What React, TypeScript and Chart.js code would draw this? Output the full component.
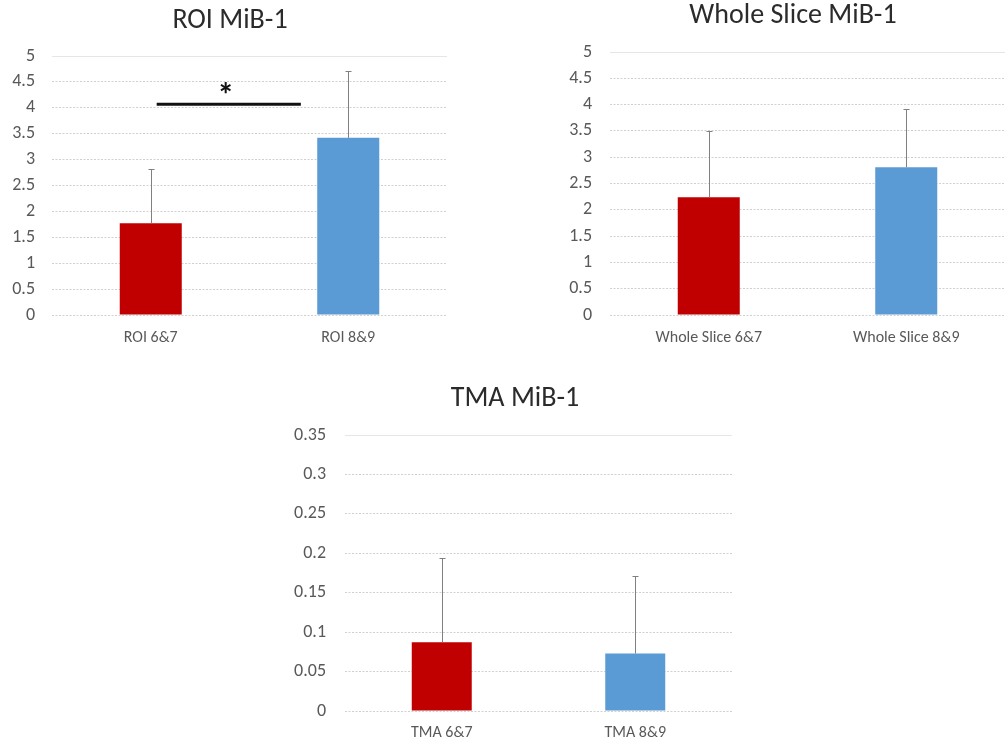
import React, { useEffect, useRef } from "react";
import { Chart, registerables } from "chart.js";

Chart.register(...registerables);

// ---- Data ----
const roiCategories = ["ROI 6&7", "ROI 8&9"];
const roiMeans = [1.77, 3.42];
const roiErrors = [1.05, 1.3];
const roiTitle = "ROI MiB-1";
const roiSigFrom = 0.03;
const roiSigTo = 0.76;
const roiSigLevel = 4.07;
const roiSigLabel = "*";

const wholeCategories = ["Whole Slice 6&7", "Whole Slice 8&9"];
const wholeMeans = [2.24, 2.81];
const wholeErrors = [1.26, 1.1];
const wholeTitle = "Whole Slice MiB-1";

const tmaCategories = ["TMA 6&7", "TMA 8&9"];
const tmaMeans = [0.0873, 0.0729];
const tmaErrors = [0.1063, 0.0979];
const tmaTitle = "TMA MiB-1";

const barColors = ["#C00000", "#5B9BD5"];
const FONT = "Carlito, 'Open Sans', 'Noto Sans', sans-serif";

type Spec = {
  left: number;
  top: number;
  width: number;
  height: number;
  pad: { left: number; right: number; top: number; bottom: number };
  yAxisWidth: number;
  yTickPad: number;
  xTickPad: number;
  titleX: number;
  titleY: number;
  title: string;
  categories: string[];
  means: number[];
  errors: number[];
  yMax: number;
  yStep: number;
  catPct: number;
  sig?: { from: number; to: number; level: number; label: string };
};

const titlePlugin = {
  id: "panelTitle",
  afterDraw(chart: any, _args: any, opts: any) {
    const ctx = chart.ctx;
    ctx.save();
    ctx.fillStyle = "#2b2b2b";
    ctx.font = "28px " + FONT;
    ctx.textAlign = "center";
    ctx.textBaseline = "middle";
    ctx.fillText(opts.text, opts.x, opts.y);
    ctx.restore();
  },
};

const topLinePlugin = {
  id: "topLine",
  beforeDatasetsDraw(chart: any) {
    const ctx = chart.ctx;
    const a = chart.chartArea;
    const y = Math.round(chart.scales.y.getPixelForValue(chart.scales.y.max)) + 0.5;
    ctx.save();
    ctx.strokeStyle = "#e6e6e6";
    ctx.lineWidth = 1;
    ctx.beginPath();
    ctx.moveTo(a.left, y);
    ctx.lineTo(a.right, y);
    ctx.stroke();
    ctx.restore();
  },
};

const errorBarPlugin = {
  id: "errorBars",
  afterDatasetsDraw(chart: any, _args: any, opts: any) {
    const errs: number[] = opts.errors || [];
    const meta = chart.getDatasetMeta(0);
    const yScale = chart.scales.y;
    const ctx = chart.ctx;
    ctx.save();
    ctx.strokeStyle = "#808080";
    ctx.lineWidth = 1;
    meta.data.forEach((el: any, i: number) => {
      const v = chart.data.datasets[0].data[i] as number;
      const top = Math.round(yScale.getPixelForValue(v + errs[i])) + 0.5;
      const x = Math.round(el.x) + 0.5;
      ctx.beginPath();
      ctx.moveTo(x, el.y);
      ctx.lineTo(x, top);
      ctx.moveTo(x - 3, top);
      ctx.lineTo(x + 3, top);
      ctx.stroke();
    });
    ctx.restore();
  },
};

const sigPlugin = {
  id: "sigBar",
  afterDatasetsDraw(chart: any, _args: any, opts: any) {
    const sig = opts.sig;
    if (!sig) return;
    const xs = chart.scales.x;
    const ys = chart.scales.y;
    const x1 = xs.getPixelForValue(sig.from);
    const x2 = xs.getPixelForValue(sig.to);
    const y = ys.getPixelForValue(sig.level);
    const ctx = chart.ctx;
    ctx.save();
    ctx.strokeStyle = "#111";
    ctx.lineWidth = 3;
    ctx.beginPath();
    ctx.moveTo(x1, y);
    ctx.lineTo(x2, y);
    ctx.stroke();
    ctx.fillStyle = "#111";
    ctx.font = "bold 34px " + FONT;
    ctx.textAlign = "center";
    ctx.textBaseline = "alphabetic";
    ctx.fillText(sig.label, (x1 + x2) / 2 - 3, y + 2);
    ctx.restore();
  },
};

function BarPanel({ spec }: { spec: Spec }) {
  const ref = useRef<HTMLCanvasElement | null>(null);
  useEffect(() => {
    if (!ref.current) return;
    const chart = new Chart(ref.current, {
      type: "bar",
      data: {
        labels: spec.categories,
        datasets: [
          {
            data: spec.means,
            backgroundColor: barColors,
            borderWidth: 0,
            barPercentage: 1,
            categoryPercentage: spec.catPct,
          },
        ],
      },
      options: {
        responsive: false,
        animation: false,
        layout: { padding: spec.pad },
        plugins: {
          legend: { display: false },
          tooltip: { enabled: false },
          title: { display: false },
          panelTitle: { text: spec.title, x: spec.titleX, y: spec.titleY },
          errorBars: { errors: spec.errors },
          sigBar: { sig: spec.sig },
        } as any,
        scales: {
          x: {
            afterFit: (s: any) => {
              s.height = 30;
            },
            grid: { display: false, drawTicks: false, tickLength: 0 },
            border: { display: false },
            ticks: {
              color: "#595959",
              font: { size: 16, family: FONT },
              padding: spec.xTickPad,
              maxRotation: 0,
            },
          },
          y: {
            min: 0,
            max: spec.yMax,
            afterFit: (s: any) => {
              s.width = spec.yAxisWidth;
            },
            grid: { color: "#d0d0d0", drawTicks: false, tickLength: 0 },
            border: { display: false, dash: [2, 1.5] },
            ticks: {
              stepSize: spec.yStep,
              color: "#595959",
              font: { size: 18, family: FONT },
              padding: spec.yTickPad,
              callback: (v: any) => String(Number(Number(v).toFixed(3))),
            },
          },
        },
      },
      plugins: [topLinePlugin, errorBarPlugin, sigPlugin, titlePlugin],
    });
    return () => chart.destroy();
  }, []);
  return (
    <canvas
      ref={ref}
      width={spec.width}
      height={spec.height}
      style={{
        position: "absolute",
        left: spec.left,
        top: spec.top,
        width: spec.width,
        height: spec.height,
        display: "block",
      }}
    />
  );
}

const specs: Spec[] = [
  {
    left: 0,
    top: 0,
    width: 470,
    height: 360,
    pad: { left: 0, right: 23, top: 56, bottom: 15 },
    yAxisWidth: 52,
    yTickPad: 17,
    xTickPad: 13,
    titleX: 230,
    titleY: 21,
    title: roiTitle,
    categories: roiCategories,
    means: roiMeans,
    errors: roiErrors,
    yMax: 5,
    yStep: 0.5,
    catPct: 0.314,
    sig: { from: roiSigFrom, to: roiSigTo, level: roiSigLevel, label: roiSigLabel },
  },
  {
    left: 500,
    top: 0,
    width: 505,
    height: 360,
    pad: { left: 0, right: 0, top: 52, bottom: 15 },
    yAxisWidth: 110,
    yTickPad: 18,
    xTickPad: 13,
    titleX: 293,
    titleY: 16,
    title: wholeTitle,
    categories: wholeCategories,
    means: wholeMeans,
    errors: wholeErrors,
    yMax: 5,
    yStep: 0.5,
    catPct: 0.314,
  },
  {
    left: 260,
    top: 360,
    width: 500,
    height: 384,
    pad: { left: 0, right: 28, top: 75, bottom: 3 },
    yAxisWidth: 85,
    yTickPad: 19,
    xTickPad: 12,
    titleX: 255,
    titleY: 39,
    title: tmaTitle,
    categories: tmaCategories,
    means: tmaMeans,
    errors: tmaErrors,
    yMax: 0.35,
    yStep: 0.05,
    catPct: 0.31,
  },
];

export default function App() {
  return (
    <div
      style={{
        position: "absolute",
        left: 0,
        top: 0,
        width: 1005,
        height: 744,
        background: "#ffffff",
      }}
    >
      {specs.map((s, i) => (
        <BarPanel key={i} spec={s} />
      ))}
    </div>
  );
}
